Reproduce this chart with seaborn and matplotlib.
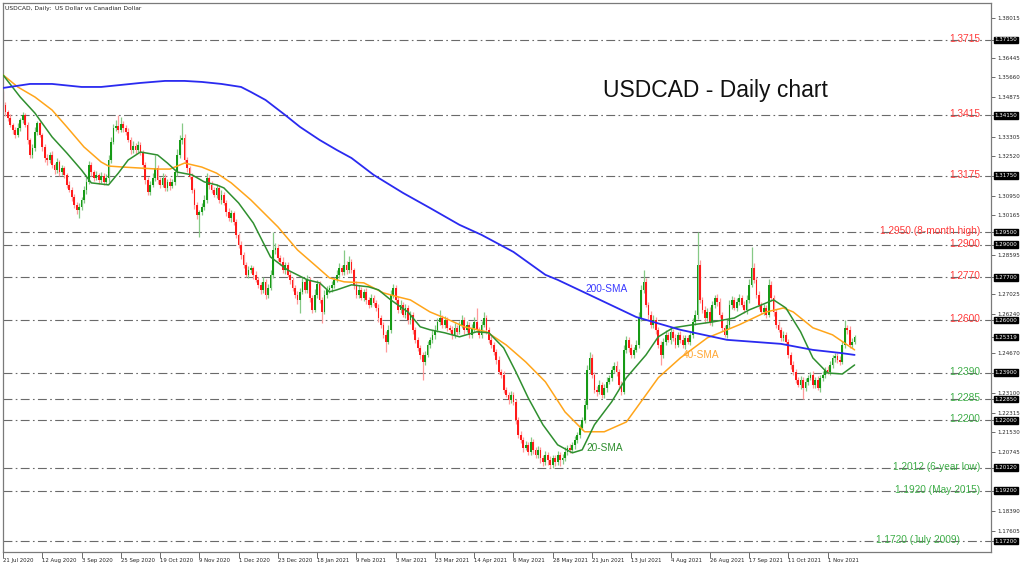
import numpy as np
import pandas as pd
import matplotlib
matplotlib.use("Agg")
import matplotlib.pyplot as plt
import matplotlib.transforms as mtransforms
import seaborn as sns

# ---- data (prices in pips, 1e-4) ----
date_bars = [0, 16, 32, 48, 64, 80, 96, 112, 128, 144, 160, 176, 192, 208,
             224, 240, 256, 272, 288, 304, 320, 336]
date_labels = ["21 Jul 2020", "12 Aug 2020", "3 Sep 2020", "25 Sep 2020", "19 Oct 2020",
               "9 Nov 2020", "1 Dec 2020", "23 Dec 2020", "18 Jan 2021", "9 Feb 2021",
               "3 Mar 2021", "23 Mar 2021", "14 Apr 2021", "6 May 2021", "28 May 2021",
               "21 Jun 2021", "13 Jul 2021", "4 Aug 2021", "26 Aug 2021", "17 Sep 2021",
               "11 Oct 2021", "1 Nov 2021"]

first_open = 13475
closes = [
    13456, 13428, 13404, 13377, 13357, 13337, 13365, 13396, 13416, 13377,
    13317, 13257, 13285, 13349, 13384, 13337, 13289, 13245, 13237, 13257,
    13217, 13197, 13229, 13189, 13205, 13178, 13138, 13118, 13090, 13058,
    13038, 13050, 13078, 13118, 13150, 13217, 13189, 13166, 13178, 13158,
    13174, 13150, 13166, 13237, 13309, 13365, 13373, 13357, 13380, 13365,
    13349, 13317, 13277, 13293, 13277, 13297, 13269, 13217, 13158, 13110,
    13138, 13166, 13205, 13158, 13138, 13166, 13126, 13150, 13134, 13150,
    13189, 13257, 13317, 13325, 13237, 13205, 13170, 13118, 13058, 13018,
    13030, 13050, 13078, 13166, 13138, 13118, 13098, 13126, 13078, 13098,
    13066, 13030, 13006, 13026, 12990, 12939, 12899, 12859, 12819, 12780,
    12799, 12807, 12780, 12760, 12740, 12720, 12752, 12700, 12728, 12780,
    12879, 12887, 12847, 12831, 12799, 12819, 12780, 12760, 12728, 12700,
    12680, 12712, 12752, 12720, 12760, 12688, 12640, 12700, 12744, 12680,
    12632, 12700, 12720, 12728, 12740, 12760, 12780, 12807, 12791, 12819,
    12799, 12831, 12799, 12740, 12700, 12720, 12688, 12712, 12680, 12660,
    12688, 12668, 12648, 12608, 12581, 12541, 12513, 12561, 12700, 12728,
    12680, 12640, 12660, 12620, 12648, 12600, 12620, 12561, 12521, 12489,
    12461, 12433, 12461, 12501, 12521, 12541, 12561, 12592, 12608, 12581,
    12600, 12569, 12561, 12541, 12569, 12553, 12581, 12600, 12561, 12581,
    12541, 12569, 12592, 12561, 12541, 12581, 12608, 12561, 12521, 12501,
    12473, 12441, 12393, 12382, 12322, 12302, 12282, 12302, 12274, 12202,
    12143, 12123, 12091, 12103, 12075, 12115, 12083, 12063, 12083, 12051,
    12035, 12063, 12043, 12023, 12051, 12035, 12063, 12043, 12051, 12075,
    12091, 12083, 12103, 12123, 12143, 12171, 12202, 12262, 12401, 12449,
    12382, 12322, 12314, 12342, 12302, 12330, 12354, 12370, 12401, 12417,
    12393, 12342, 12314, 12481, 12521, 12489, 12461, 12481, 12501, 12608,
    12720, 12752, 12660, 12620, 12581, 12600, 12561, 12501, 12461, 12513,
    12541, 12521, 12553, 12529, 12501, 12541, 12521, 12501, 12529, 12513,
    12541, 12592, 12620, 12819, 12680, 12640, 12608, 12632, 12592, 12660,
    12688, 12672, 12620, 12569, 12541, 12581, 12660, 12680, 12648, 12672,
    12688, 12660, 12640, 12680, 12740, 12807, 12760, 12700, 12660, 12632,
    12648, 12620, 12740, 12688, 12632, 12581, 12561, 12529, 12541, 12513,
    12461, 12421, 12393, 12362, 12342, 12362, 12330, 12354, 12370, 12382,
    12342, 12362, 12330, 12370, 12382, 12401, 12393, 12421, 12449, 12457,
    12441, 12433, 12501, 12569, 12561, 12501, 12513, 12532,
]
wick_up = [
    36, 12, 10, 15, 8, 12, 18, 10, 14, 9,
    12, 8, 15, 20, 10, 14, 9, 12, 16, 10,
    14, 10, 18, 9, 12, 10, 8, 14, 11, 10,
    12, 16, 10, 14, 20, 18, 12, 10, 15, 9,
    14, 10, 16, 20, 18, 15, 22, 43, 30, 12,
    10, 14, 12, 18, 10, 15, 12, 9, 12, 10,
    16, 20, 52, 12, 10, 18, 14, 10, 16, 12,
    14, 24, 20, 59, 16, 12, 10, 14, 9, 12,
    10, 16, 20, 18, 12, 14, 10, 16, 12, 18,
    12, 10, 16, 14, 10, 12, 9, 14, 10, 12,
    16, 12, 10, 14, 12, 10, 18, 12, 16, 20,
    71, 20, 14, 12, 18, 10, 12, 14, 10, 12,
    14, 16, 20, 12, 18, 10, 12, 22, 16, 10,
    12, 18, 14, 10, 16, 12, 20, 18, 14, 60,
    16, 22, 12, 10, 14, 18, 12, 10, 16, 12,
    14, 12, 10, 16, 12, 10, 14, 18, 20, 16,
    12, 14, 18, 10, 16, 12, 14, 10, 12, 10,
    12, 10, 16, 14, 12, 18, 20, 14, 32, 12,
    16, 12, 10, 14, 18, 12, 16, 20, 12, 14,
    10, 16, 18, 56, 12, 14, 22, 10, 12, 14,
    10, 12, 14, 10, 16, 12, 10, 14, 12, 10,
    12, 16, 10, 14, 12, 18, 10, 12, 16, 10,
    12, 14, 10, 16, 12, 10, 14, 12, 16, 18,
    12, 14, 10, 16, 12, 14, 10, 20, 18, 24,
    14, 12, 16, 18, 10, 14, 20, 12, 16, 14,
    18, 12, 14, 20, 16, 12, 14, 10, 18, 22,
    20, 47, 16, 12, 14, 18, 12, 10, 16, 14,
    18, 12, 14, 10, 16, 12, 14, 18, 12, 10,
    14, 16, 20, 131, 18, 12, 14, 16, 20, 14,
    12, 16, 14, 10, 12, 18, 20, 14, 12, 16,
    14, 12, 16, 20, 24, 84, 18, 12, 14, 10,
    16, 12, 22, 14, 12, 10, 16, 12, 14, 10,
    12, 10, 14, 12, 10, 16, 12, 14, 10, 12,
    14, 12, 16, 10, 14, 12, 16, 14, 12, 10,
    12, 14, 16, 31, 12, 16, 14, 10,
]
wick_dn = [
    10, 14, 12, 9, 16, 12, 10, 14, 12, 10,
    16, 12, 10, 14, 12, 10, 16, 14, 20, 12,
    10, 14, 12, 16, 10, 12, 14, 10, 16, 12,
    14, 32, 10, 12, 16, 10, 14, 12, 10, 16,
    12, 14, 10, 16, 12, 10, 14, 12, 10, 16,
    12, 10, 14, 12, 16, 10, 12, 14, 18, 14,
    12, 10, 14, 16, 12, 10, 14, 12, 16, 10,
    12, 14, 10, 16, 12, 14, 10, 12, 16, 14,
    88, 12, 10, 14, 16, 12, 10, 14, 12, 16,
    10, 14, 12, 16, 10, 14, 12, 16, 12, 10,
    14, 12, 16, 10, 14, 18, 12, 16, 14, 10,
    12, 16, 14, 10, 12, 14, 10, 16, 12, 14,
    16, 52, 10, 14, 12, 16, 14, 10, 12, 14,
    44, 10, 14, 12, 16, 12, 10, 14, 12, 10,
    14, 12, 10, 16, 14, 12, 10, 14, 16, 12,
    10, 14, 12, 16, 14, 12, 40, 10, 14, 12,
    16, 12, 14, 10, 12, 16, 14, 18, 12, 14,
    16, 71, 12, 10, 14, 12, 16, 10, 12, 14,
    12, 14, 10, 16, 12, 14, 10, 12, 16, 10,
    14, 12, 16, 10, 12, 14, 10, 16, 12, 14,
    12, 16, 10, 14, 12, 10, 16, 12, 14, 18,
    12, 14, 16, 10, 12, 14, 16, 12, 14, 20,
    15, 12, 20, 11, 14, 18, 14, 25, 16, 12,
    14, 12, 10, 16, 12, 14, 10, 12, 16, 14,
    12, 14, 16, 10, 14, 12, 16, 10, 14, 12,
    16, 12, 14, 10, 12, 16, 14, 12, 10, 14,
    12, 14, 10, 16, 12, 14, 18, 12, 40, 14,
    12, 10, 16, 14, 12, 10, 14, 12, 16, 10,
    14, 12, 10, 16, 12, 14, 18, 12, 10, 14,
    12, 16, 14, 12, 10, 14, 12, 16, 10, 14,
    12, 10, 14, 16, 12, 10, 14, 12, 16, 10,
    12, 14, 10, 12, 16, 14, 10, 12, 14, 12,
    14, 16, 12, 14, 10, 16, 43, 12, 14, 10,
    12, 14, 10, 16, 12, 14, 10, 12, 14, 16,
    12, 14, 10, 12, 16, 14, 12, 10,
]

sma20_bar = [0, 7, 13, 20, 26, 32, 36, 43, 47, 51, 56, 63, 67, 71, 77, 82, 87, 90, 96, 102,
             109, 116, 124, 129, 133, 136, 142, 149, 153, 158, 165, 170, 174, 180, 186, 193,
             198, 204, 209, 214, 220, 226, 232, 236, 241, 248, 254, 262, 267, 273, 281, 289,
             298, 304, 314, 319, 325, 330, 336, 342, 347]
sma20_val = [13576, 13488, 13424, 13329, 13265, 13197, 13146, 13138, 13185, 13237, 13269,
             13257, 13225, 13189, 13178, 13150, 13138, 13126, 13066, 12986, 12851, 12799,
             12760, 12748, 12712, 12720, 12740, 12732, 12720, 12680, 12632, 12573, 12561,
             12549, 12533, 12553, 12549, 12489, 12393, 12290, 12183, 12103, 12071, 12083,
             12183, 12274, 12370, 12461, 12533, 12569, 12581, 12592, 12608, 12640, 12680,
             12648, 12553, 12449, 12389, 12385, 12421]
sma40_bar = [0, 6, 13, 20, 26, 33, 40, 43, 49, 56, 63, 68, 74, 81, 87, 93, 101, 112, 120, 128,
             133, 139, 147, 155, 161, 166, 174, 180, 188, 197, 205, 213, 221, 229, 237, 245,
             254, 262, 267, 276, 287, 300, 311, 318, 322, 330, 338, 347]
sma40_val = [13576, 13528, 13488, 13436, 13369, 13289, 13229, 13213, 13209, 13205, 13201,
             13201, 13225, 13209, 13185, 13146, 13078, 12971, 12879, 12811, 12768, 12752,
             12748, 12708, 12692, 12680, 12632, 12608, 12573, 12553, 12501, 12433, 12354,
             12234, 12155, 12155, 12194, 12302, 12370, 12449, 12529, 12581, 12632, 12648,
             12632, 12569, 12541, 12481]
sma200_bar = [0, 11, 20, 32, 40, 48, 56, 66, 74, 81, 89, 97, 101, 107, 115, 121, 129, 136, 142,
              151, 163, 174, 186, 195, 208, 221, 226, 239, 258, 276, 295, 317, 330, 341, 347]
sma200_val = [13524, 13540, 13540, 13528, 13528, 13536, 13544, 13552, 13552, 13548, 13540,
              13528, 13508, 13476, 13416, 13369, 13317, 13277, 13245, 13178, 13106, 13046,
              12979, 12939, 12871, 12780, 12760, 12700, 12612, 12561, 12521, 12505, 12481,
              12469, 12461]

levels = [1.3715, 1.3415, 1.3175, 1.2950, 1.2900, 1.2770, 1.2600,
          1.2390, 1.2285, 1.2200, 1.2012, 1.1920, 1.1720]
level_texts = ["1.3715", "1.3415", "1.3175", "1.2950 (8-month high)", "1.2900", "1.2770",
               "1.2600", "1.2390", "1.2285", "1.2200", "1.2012 (6-year low)",
               "1.1920 (May 2015)", "1.1720 (July 2009)"]
last_price = 1.25319
axis_ticks = [1.38015, 1.36445, 1.35660, 1.34875, 1.33305, 1.32520, 1.30950, 1.30165,
              1.28595, 1.27025, 1.26240, 1.24670, 1.23100, 1.22315, 1.21530,
              1.20745, 1.18390, 1.17605]

# ---- style ----
sns.set_theme(style="white")
plt.rcParams["font.family"] = ["Liberation Sans", "DejaVu Sans"]

RED_TXT, GREEN_TXT = "#ff3b3b", "#3fae49"
PX_PER_BAR = 2.4554


def bar_at(px):
    # pixel column -> bar index
    return (px - 2.5) / PX_PER_BAR


fig = plt.figure(figsize=(10.24, 5.65), dpi=100)
ax = fig.add_axes([3 / 1024, 13 / 565, 988 / 1024, 549 / 565])
ax.set_facecolor("white")

x = np.arange(len(closes))
c = np.array(closes) / 1e4
o = np.array([first_open] + closes[:-1]) / 1e4
hi = np.maximum(o, c) + np.array(wick_up) / 1e4
lo = np.minimum(o, c) - np.array(wick_dn) / 1e4
up = c >= o

# level lines
for v in levels:
    ax.axhline(v, color="#6a6a6a", lw=0.8, linestyle=(0, (8, 3, 1.5, 3)), zorder=1)

# candles
ax.vlines(x[up], lo[up], hi[up], color="#86c986", lw=0.9, zorder=2)
ax.vlines(x[~up], lo[~up], hi[~up], color="#ff9a9a", lw=0.9, zorder=2)
body = np.maximum(np.abs(c - o), 0.00008)
ax.bar(x[up], body[up], bottom=o[up], width=0.72, color="#169a16", linewidth=0, zorder=2.2)
ax.bar(x[~up], body[~up], bottom=c[~up], width=0.72, color="#ff1a1a", linewidth=0, zorder=2.2)

# moving averages
sma_df = pd.concat([
    pd.DataFrame({"bar": sma200_bar, "value": np.array(sma200_val) / 1e4, "sma": "200"}),
    pd.DataFrame({"bar": sma40_bar, "value": np.array(sma40_val) / 1e4, "sma": "40"}),
    pd.DataFrame({"bar": sma20_bar, "value": np.array(sma20_val) / 1e4, "sma": "20"}),
])
palette = {"200": "#2a2af0", "40": "#ffa51a", "20": "#2f8f2f"}
for name, lw in [("40", 1.1), ("20", 1.1), ("200", 1.3)]:
    sns.lineplot(data=sma_df[sma_df["sma"] == name], x="bar", y="value", color=palette[name],
                 lw=lw, ax=ax, legend=False, estimator=None, sort=True, zorder=3)

# axes limits: 2.4554 px per bar, 0.0003982 per px
ax.set_xlim(bar_at(3), bar_at(991))
ax.set_ylim(1.16762, 1.38623)
ax.set_xlabel("")
ax.set_ylabel("")

# x ticks
ax.set_xticks(date_bars)
ax.set_xticklabels(date_labels, ha="left", fontsize=3.9, family="DejaVu Sans")
ax.tick_params(axis="x", direction="out", length=4, width=0.6, color="#555555", pad=0.5,
               bottom=True)

# y ticks on right
ax.yaxis.tick_right()
box_levels = levels + [last_price]
ax.set_yticks(axis_ticks + box_levels)
ax.set_yticklabels([f"{v:.5f}" for v in axis_ticks] + [""] * len(box_levels),
                   fontsize=4.0, family="DejaVu Sans")
ax.tick_params(axis="y", direction="out", length=3, width=0.6, color="#555555", pad=1.5,
               right=True, left=False)

for s in ax.spines.values():
    s.set_color("#7a7a7a")
    s.set_linewidth(0.9)

trans = mtransforms.blended_transform_factory(ax.transAxes, ax.transData)
for v in box_levels:
    ax.text(1.0035, v, f"{v:.5f}", transform=trans, ha="left", va="center", fontsize=4.0,
            family="DejaVu Sans", color="white", clip_on=False, zorder=6,
            bbox=dict(boxstyle="square,pad=0.15", fc="black", ec="black"))

# level labels
for v, t in zip(levels, level_texts):
    col = RED_TXT if v >= 1.26 else GREEN_TXT
    xr = 0.9686 if t.startswith("1.1720") else 0.9889
    ax.text(xr, v - 0.0008, t, transform=trans, ha="right", va="baseline",
            fontsize=7.3, color=col, zorder=5)

# SMA labels
ax.text(bar_at(606), 1.2723, "200-SMA", ha="center", va="center", fontsize=7.3,
        color="#3a3aff", zorder=5)
ax.text(bar_at(701), 1.2461, "40-SMA", ha="center", va="center", fontsize=7.3,
        color="#ffa733", zorder=5)
ax.text(bar_at(605), 1.2090, "20-SMA", ha="center", va="center", fontsize=7.3,
        color="#2f8f2f", zorder=5)

# titles
ax.text((603 - 3) / 988, (552 - 97) / 549, "USDCAD - Daily chart", transform=ax.transAxes,
        ha="left", va="baseline", fontsize=16.5, color="#111111", zorder=5)
ax.text(0.002, (552 - 10) / 549, "USDCAD, Daily:  US Dollar vs Canadian Dollar",
        transform=ax.transAxes, ha="left", va="baseline", fontsize=4.3, family="DejaVu Sans",
        color="#222222", zorder=5)

fig.savefig("out.png", dpi=100)
